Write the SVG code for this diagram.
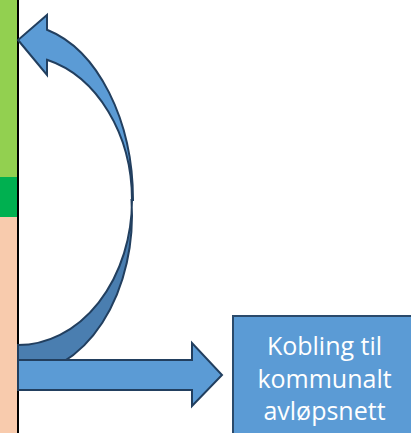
<svg xmlns="http://www.w3.org/2000/svg" width="411" height="433" viewBox="0 0 411 433">
<style>
.front{fill:#5B9BD5;stroke:#223F5F;stroke-width:2;stroke-linejoin:miter}
.back{fill:#4A7EB0;stroke:#223F5F;stroke-width:2}
.lbl{font-family:"Open Sans","Noto Sans",sans-serif;font-size:25px;fill:#FFFFFF;text-anchor:middle}
</style>
<g id="bar">
<rect x="0" y="0" width="17" height="177" fill="#92D050"/>
<rect x="0" y="177" width="17" height="40" fill="#00B050"/>
<rect x="0" y="217" width="17" height="216" fill="#F8CBAD"/>
<line x1="18" y1="0" x2="18" y2="433" stroke="#000000" stroke-width="2"/>
</g>
<g id="connectors">
<path class="back" d="M132 200 A114 145 0 0 1 18 345 L18 375 A114 160 0 0 0 131.5 200 Z"/>
<path class="front" d="M47 29.7 A115 176 0 0 1 133 200 L132 200 A114 145 0 0 0 47 59.8 L47 75 L18 40 L47 15 Z"/>
<path class="front" d="M18 360 L192 360 L192 343 L222 375 L192 406 L192 390 L18 390 Z"/>
</g>
<g id="box">
<rect x="233" y="316" width="200" height="140" fill="#5B9BD5" stroke="#2A4A6B" stroke-width="2"/>
<text class="lbl" x="324.5" y="355">Kobling til</text>
<text class="lbl" x="324.5" y="388">kommunalt</text>
<text class="lbl" x="324.5" y="420">avløpsnett</text>
</g>
</svg>
